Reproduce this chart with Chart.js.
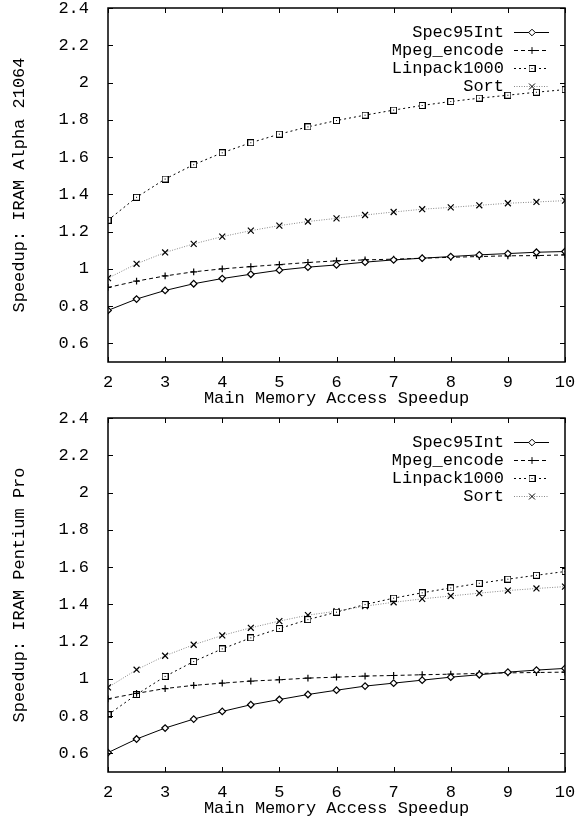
<!DOCTYPE html>
<html>
<head>
<meta charset="utf-8">
<script src="https://cdn.jsdelivr.net/npm/chart.js@4/dist/chart.umd.min.js"></script>
<style>
  body { margin: 0; background: #fff; }
  canvas { display: block; }
</style>
</head>
<body>
<canvas id="graficoAlpha" width="582" height="410"></canvas>
<canvas id="graficoPentium" width="582" height="410"></canvas>
<script>
// dados
var xValores = [2, 2.5, 3, 3.5, 4, 4.5, 5, 5.5, 6, 6.5, 7, 7.5, 8, 8.5, 9, 9.5, 10];
var yTicks = [0.6, 0.8, 1, 1.2, 1.4, 1.6, 1.8, 2, 2.2, 2.4];
var nomesSeries = ['Spec95Int', 'Mpeg_encode', 'Linpack1000', 'Sort'];

// IRAM Alpha 21064
var alphaSpec = [0.777, 0.838, 0.884, 0.920, 0.948, 0.971, 0.993, 1.009, 1.021, 1.036, 1.048, 1.057, 1.066, 1.075, 1.082, 1.089, 1.093];
var alphaMpeg = [0.900, 0.934, 0.962, 0.984, 1.000, 1.012, 1.023, 1.034, 1.043, 1.048, 1.052, 1.057, 1.062, 1.066, 1.070, 1.071, 1.075];
var alphaLinpack = [1.261, 1.384, 1.482, 1.559, 1.623, 1.677, 1.723, 1.762, 1.796, 1.825, 1.852, 1.877, 1.898, 1.916, 1.932, 1.948, 1.962];
var alphaSort = [0.950, 1.027, 1.088, 1.134, 1.173, 1.205, 1.232, 1.254, 1.271, 1.289, 1.305, 1.320, 1.330, 1.341, 1.352, 1.359, 1.366];

// IRAM Pentium Pro
var proSpec = [0.604, 0.677, 0.736, 0.784, 0.825, 0.861, 0.889, 0.916, 0.939, 0.961, 0.977, 0.993, 1.009, 1.022, 1.036, 1.047, 1.056];
var proMpeg = [0.893, 0.922, 0.948, 0.965, 0.977, 0.988, 0.995, 1.004, 1.009, 1.015, 1.018, 1.022, 1.025, 1.029, 1.032, 1.034, 1.036];
var proLinpack = [0.807, 0.916, 1.013, 1.093, 1.161, 1.220, 1.270, 1.318, 1.358, 1.399, 1.433, 1.462, 1.488, 1.513, 1.535, 1.556, 1.576];
var proSort = [0.954, 1.049, 1.124, 1.183, 1.233, 1.274, 1.310, 1.342, 1.363, 1.390, 1.411, 1.429, 1.445, 1.460, 1.474, 1.485, 1.495];

var fonte = { family: "'Liberation Mono', 'DejaVu Sans Mono', monospace", size: 17, lineHeight: 1 };

// quadrado com ponto no meio (marcador do gnuplot)
var quadrado = document.createElement('canvas');
quadrado.width = 7;
quadrado.height = 7;
var qctx = quadrado.getContext('2d');
qctx.fillStyle = '#fff';
qctx.fillRect(0, 0, 7, 7);
qctx.strokeStyle = '#000';
qctx.lineWidth = 1;
qctx.strokeRect(0.5, 0.5, 6, 6);
qctx.fillStyle = '#000';
qctx.fillRect(3, 3, 1, 1);

var estilos = [
    { borderColor: '#000', borderDash: [], pointStyle: 'rectRot', pointRadius: 3.3 },
    { borderColor: '#000', borderDash: [4, 3], pointStyle: 'cross', pointRadius: 3.4 },
    { borderColor: '#000', borderDash: [2, 3], pointStyle: quadrado, pointRadius: 4 },
    { borderColor: '#888', borderDash: [1, 1.5], pointStyle: 'crossRot', pointRadius: 4.2 }
];

function montarDatasets(listas) {
    var datasets = [];
    for (var i = 0; i < listas.length; i++) {
        var pontos = [];
        for (var j = 0; j < xValores.length; j++) {
            pontos.push({ x: xValores[j], y: listas[i][j] });
        }
        datasets.push({
            label: nomesSeries[i],
            data: pontos,
            borderColor: estilos[i].borderColor,
            borderDash: estilos[i].borderDash,
            borderWidth: 1,
            pointStyle: estilos[i].pointStyle,
            pointRadius: estilos[i].pointRadius,
            pointBorderColor: '#000',
            pointBackgroundColor: '#fff',
            pointBorderWidth: 1.2,
            tension: 0
        });
    }
    return datasets;
}

// moldura, ticks para dentro e legenda dentro da area
var pluginMoldura = {
    id: 'moldura',
    afterDraw: function (chart) {
        var ctx = chart.ctx;
        var a = chart.chartArea;
        var sx = chart.scales.x;
        var sy = chart.scales.y;
        ctx.save();
        ctx.setLineDash([]);
        ctx.strokeStyle = '#000';
        ctx.lineWidth = 1;
        ctx.beginPath();
        sx.ticks.forEach(function (t) {
            var px = Math.round(sx.getPixelForValue(t.value)) + 0.5;
            ctx.moveTo(px, a.bottom);
            ctx.lineTo(px, a.bottom - 5);
            ctx.moveTo(px, a.top);
            ctx.lineTo(px, a.top + 5);
        });
        sy.ticks.forEach(function (t) {
            var py = Math.round(sy.getPixelForValue(t.value)) + 0.5;
            ctx.moveTo(a.left, py);
            ctx.lineTo(a.left + 5, py);
            ctx.moveTo(a.right, py);
            ctx.lineTo(a.right - 5, py);
        });
        ctx.stroke();
        ctx.beginPath();
        ctx.lineWidth = 1.5;
        ctx.rect(a.left, a.top, a.right - a.left, a.bottom - a.top);
        ctx.stroke();

        // legenda
        ctx.font = fonte.size + 'px ' + fonte.family;
        ctx.textAlign = 'right';
        ctx.textBaseline = 'middle';
        chart.data.datasets.forEach(function (ds, i) {
            var y = a.top + 24 + i * 18;
            ctx.fillStyle = '#000';
            ctx.fillText(ds.label, a.right - 61, y);
            ctx.beginPath();
            ctx.lineWidth = 1;
            ctx.strokeStyle = ds.borderColor;
            ctx.setLineDash(ds.borderDash);
            ctx.moveTo(a.right - 51, y + 0.5);
            ctx.lineTo(a.right - 16, y + 0.5);
            ctx.stroke();
            ctx.setLineDash([]);
            ctx.strokeStyle = '#000';
            ctx.fillStyle = '#fff';
            Chart.helpers.drawPoint(ctx, { pointStyle: ds.pointStyle, radius: ds.pointRadius, rotation: 0, borderWidth: 1.2 }, a.right - 33, y + 0.5);
        });
        ctx.restore();
    }
};

function criarGrafico(idCanvas, tituloY, listas) {
    return new Chart(document.getElementById(idCanvas), {
        type: 'line',
        data: { datasets: montarDatasets(listas) },
        plugins: [pluginMoldura],
        options: {
            responsive: false,
            animation: false,
            layout: { padding: { top: 8, right: 17, bottom: 0, left: 0 } },
            plugins: {
                legend: { display: false },
                tooltip: { enabled: false }
            },
            scales: {
                x: {
                    type: 'linear',
                    min: 2,
                    max: 10,
                    ticks: { stepSize: 1, color: '#000', font: fonte, padding: 4, maxRotation: 0 },
                    grid: { display: false },
                    border: { display: false },
                    title: { display: true, text: 'Main Memory Access Speedup', color: '#000', font: fonte, padding: { top: 0, bottom: 3 } },
                    afterFit: function (s) { s.height = 48; s.paddingRight = 0; }
                },
                y: {
                    type: 'linear',
                    min: 0.5,
                    max: 2.4,
                    afterBuildTicks: function (s) {
                        s.ticks = yTicks.map(function (v) { return { value: v }; });
                    },
                    ticks: {
                        color: '#000',
                        font: fonte,
                        padding: 11,
                        callback: function (v) { return String(Math.round(v * 10) / 10); }
                    },
                    grid: { display: false },
                    border: { display: false },
                    title: { display: true, text: tituloY, color: '#000', font: fonte, padding: { top: 11, bottom: 0 } },
                    afterFit: function (s) { s.width = 108; s.paddingTop = 0; s.paddingBottom = 0; }
                }
            }
        }
    });
}

var graficoAlpha = criarGrafico('graficoAlpha', 'Speedup: IRAM Alpha 21064', [alphaSpec, alphaMpeg, alphaLinpack, alphaSort]);
var graficoPentium = criarGrafico('graficoPentium', 'Speedup: IRAM Pentium Pro', [proSpec, proMpeg, proLinpack, proSort]);
</script>
</body>
</html>
